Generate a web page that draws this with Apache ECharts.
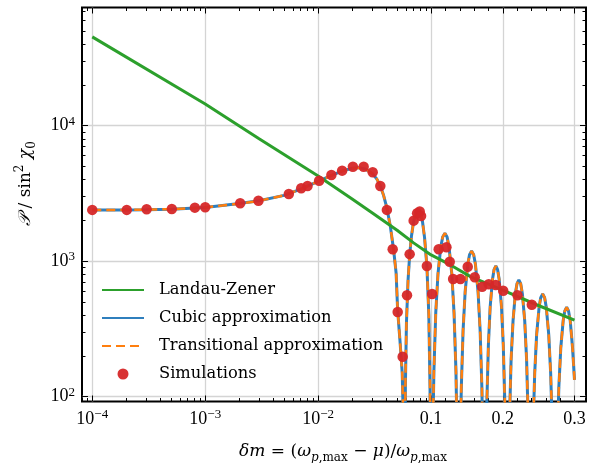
<!DOCTYPE html>
<html><head><meta charset="utf-8">
<script src="https://cdn.jsdelivr.net/npm/echarts@6/dist/echarts.min.js"></script>
<style>html,body{margin:0;padding:0;background:#fff}#c{width:592px;height:463px}</style>
</head><body><div id="c"></div>
<script>
// ---------- data ----------
const lzX = [1e-4, 1e-3, 3e-3, 1e-2, 0.02, 0.03, 0.05, 0.07, 0.1, 0.127, 0.155, 0.2, 0.248, 0.3];
const lzP = [45200, 14450, 8000, 4255, 2880, 2280, 1690, 1365, 1112, 938, 769, 612, 475, 368];

const cubicX = [
  1e-4, 2e-4, 3e-4, 5e-4, 1e-3, 2e-3, 3e-3, 5e-3, 7e-3, 1e-2, 0.013, 0.016, 0.02, 0.023, 0.026, 0.03, 0.033, 0.0355, 0.038, 0.0407, 0.0436, 0.0466, 0.049, 0.0506, 0.053, 0.0555, 0.057,
  0.058, 0.0592, 0.0605, 0.0625, 0.0646, 0.067, 0.07, 0.0735, 0.0767, 0.08, 0.0835, 0.0875, 0.0918, 0.0955, 0.0978, 0.0992,
  0.1, 0.1019, 0.1039, 0.1065, 0.1096, 0.1135, 0.1162, 0.1193, 0.1223, 0.125, 0.1289, 0.132, 0.1347, 0.1366,
  0.1385, 0.1403, 0.1421, 0.1446, 0.1475, 0.1511, 0.1536, 0.1565, 0.1594, 0.1619, 0.1655, 0.1684, 0.1709, 0.1727,
  0.1745, 0.1761, 0.1777, 0.1799, 0.1824, 0.1856, 0.1878, 0.1903, 0.1928, 0.195, 0.1982, 0.2007, 0.2029, 0.2045,
  0.2061, 0.2077, 0.2094, 0.2116, 0.2143, 0.2175, 0.2198, 0.2224, 0.225, 0.2273, 0.2306, 0.2332, 0.2354, 0.2371,
  0.2387, 0.2404, 0.2421, 0.2445, 0.2472, 0.2506, 0.2529, 0.2557, 0.2584, 0.2607, 0.2641, 0.2668, 0.2692, 0.2709,
  0.2726, 0.2742, 0.2759, 0.2782, 0.2809, 0.2842, 0.2865, 0.2891, 0.2917, 0.2941, 0.2973, 0.3
];
const cubicP = [
  2385, 2390, 2400, 2420, 2490, 2660, 2790, 3060, 3400, 3880, 4280, 4600, 4850, 4900, 4800, 4450, 4050, 3600, 3050, 2450, 1800, 1210, 820, 430, 260, 150, 60,
  3, 120, 350, 720, 1110, 1530, 1960, 2300, 2415, 2310, 2020, 1500, 920, 400, 120, 25,
  3, 39, 153, 416, 804, 1276, 1509, 1607, 1509, 1276, 804, 416, 153, 39,
  3, 29, 114, 308, 595, 944, 1116, 1189, 1116, 944, 595, 308, 114, 29,
  3, 23, 88, 239, 461, 732, 866, 922, 866, 732, 461, 239, 88, 23,
  3, 18, 69, 188, 363, 576, 682, 726, 682, 576, 363, 188, 69, 18,
  3, 14, 55, 148, 287, 455, 538, 573, 538, 455, 287, 148, 55, 14,
  3, 11, 44, 118, 229, 363, 429, 457, 429, 363, 229, 133
];
// transitional approximation is indistinguishable from the cubic one in the picture
const transX = cubicX.slice();
const transP = cubicP.slice();

const simX = [1e-4, 2.02e-4, 3.03e-4, 5.06e-4, 8.1e-4, 1.0e-3, 2.04e-3, 2.96e-3, 5.5e-3, 7.08e-3, 8.05e-3, 1.02e-2, 0.0131, 0.0163, 0.0203, 0.0253, 0.0304, 0.0355, 0.0406, 0.0457, 0.0506, 0.056, 0.0612, 0.0646, 0.0701, 0.0752, 0.0793, 0.0815, 0.0918, 0.1014, 0.1106, 0.1214, 0.126, 0.1307, 0.1409, 0.1511, 0.1609, 0.1712, 0.1804, 0.1902, 0.2006, 0.2205, 0.2405];
const simP = [2390, 2390, 2415, 2427, 2483, 2500, 2675, 2796, 3133, 3451, 3589, 3927, 4327, 4656, 4980, 4980, 4530, 3589, 2390, 1224, 422, 197, 560, 1127, 1991, 2257, 2328, 2156, 922, 573, 1224, 1266, 991, 739, 739, 911, 761, 648, 675, 667, 606, 560, 477];

const xTickVals = [1e-4, 1e-3, 1e-2, 0.1, 0.2, 0.3];
const xTickLabels = [['10', '\u22124'], ['10', '\u22123'], ['10', '\u22122'], ['0.1', ''], ['0.2', ''], ['0.3', '']];
const xMinorVals = [9e-5, 2e-4, 3e-4, 4e-4, 5e-4, 6e-4, 7e-4, 8e-4, 9e-4, 2e-3, 3e-3, 4e-3, 5e-3, 6e-3, 7e-3, 8e-3, 9e-3, 0.02, 0.03, 0.04, 0.05, 0.06, 0.07, 0.08, 0.09, 0.12, 0.14, 0.16, 0.18, 0.22, 0.24, 0.26, 0.28];
const yTickVals = [100, 1000, 10000];
const yTickLabels = [['10', '2'], ['10', '3'], ['10', '4']];
const yMinorVals = [200, 300, 400, 500, 600, 700, 800, 900, 2000, 3000, 4000, 5000, 6000, 7000, 8000, 9000, 20000, 30000, 40000, 50000, 60000, 70000];

// ---------- scale: log10 below 0.1, linear above ----------
const K = 6.348;
const fx = x => x <= 0.1 ? Math.log10(x) : -1 + (x - 0.1) * K;
const fy = p => Math.log10(p);
const XMIN = -4.091, XMAX = 0.3716, YMIN = 1.9646, YMAX = 4.872;

const FONT = 'Liberation Serif';
const TFONT = 'DejaVu Serif';
const pairs = (X, P) => X.map((x, i) => [fx(x), fy(P[i])]);
const xMajorU = xTickVals.map(fx), xMinorU = xMinorVals.map(fx);
const yMajorU = yTickVals.map(fy), yMinorU = yMinorVals.map(fy);

const richTick = {
  b: { fontFamily: FONT, fontSize: 18, color: '#000', lineHeight: 22 },
  s: { fontFamily: FONT, fontSize: 13, color: '#000', lineHeight: 13, verticalAlign: 'top' }
};
function lab(list, U) {
  return v => {
    let i = 0, best = 1e9;
    U.forEach((u, k) => { const d = Math.abs(u - v); if (d < best) { best = d; i = k; } });
    const [b, e] = list[i];
    return e ? '{b|' + b + '}{s|' + e + '}' : '{b|' + b + '}';
  };
}
const tickStyle = { color: '#000', width: 1 };
function xAxisCfg(pos, vals, len, withLabels) {
  return {
    type: 'value', position: pos, min: XMIN, max: XMAX,
    axisLine: { show: false, onZero: false },
    axisTick: { show: true, inside: true, length: len, customValues: vals, lineStyle: tickStyle },
    axisLabel: withLabels ? { show: true, customValues: vals, margin: 7, formatter: lab(xTickLabels, xMajorU), rich: richTick } : { show: false },
    splitLine: { show: withLabels, lineStyle: { color: '#d4d4d4', width: 1.3 } },
    minorTick: { show: false }, minorSplitLine: { show: false }
  };
}
function yAxisCfg(pos, vals, len, withLabels) {
  return {
    type: 'value', position: pos, min: YMIN, max: YMAX,
    axisLine: { show: false, onZero: false },
    axisTick: { show: true, inside: true, length: len, customValues: vals, lineStyle: tickStyle },
    axisLabel: withLabels ? { show: true, customValues: vals, margin: 7, formatter: lab(yTickLabels, yMajorU), rich: richTick } : { show: false },
    splitLine: { show: withLabels, lineStyle: { color: '#d4d4d4', width: 1.3 } },
    minorTick: { show: false }, minorSplitLine: { show: false }
  };
}

const nameRich = {
  i: { fontFamily: TFONT, fontSize: 17, fontStyle: 'italic', color: '#000', lineHeight: 24 },
  n: { fontFamily: TFONT, fontSize: 17, color: '#000', lineHeight: 24 },
  si: { fontFamily: TFONT, fontSize: 12, fontStyle: 'italic', color: '#000', lineHeight: 12, verticalAlign: 'bottom' },
  s: { fontFamily: TFONT, fontSize: 12, color: '#000', lineHeight: 12, verticalAlign: 'bottom' },
  sup: { fontFamily: TFONT, fontSize: 12, color: '#000', lineHeight: 12, verticalAlign: 'top' }
};

const xAxes = [
  xAxisCfg('bottom', xMajorU, 6, true),
  xAxisCfg('bottom', xMinorU, 3.5, false),
  xAxisCfg('top', xMajorU, 6, false),
  xAxisCfg('top', xMinorU, 3.5, false)
];
Object.assign(xAxes[0], {
  name: '{i|\u03b4m}{n| = (}{i|\u03c9}{si|p}{s|,max}{n| \u2212 }{i|\u03bc}{n|)/}{i|\u03c9}{si|p}{s|,max}',
  nameLocation: 'middle', nameGap: 38,
  nameTextStyle: { rich: nameRich, padding: [0, 0, 0, 18] }
});

const yAxes = [
  yAxisCfg('left', yMajorU, 6, true),
  yAxisCfg('left', yMinorU, 3.5, false),
  yAxisCfg('right', yMajorU, 6, false),
  yAxisCfg('right', yMinorU, 3.5, false)
];
Object.assign(yAxes[0], {
  name: '{i|\ud835\udcab}{n| / sin}{sup|2}{n| }{i|\u03c7}{s|0}',
  nameLocation: 'middle', nameRotate: 90, nameGap: 44,
  nameTextStyle: { rich: nameRich, padding: [0, 0, 0, 42] }
});

const hidden = { opacity: 0 };
const chart = echarts.init(document.getElementById('c'), null, { renderer: 'canvas' });
chart.setOption({
  animation: false,
  backgroundColor: '#fff',
  grid: { left: 82, right: 6, top: 7.5, bottom: 61.5, show: true, borderColor: '#000', borderWidth: 2, containLabel: false, outerBoundsMode: 'none' },
  xAxis: xAxes,
  yAxis: yAxes,
  legend: {
    orient: 'vertical', left: 96, top: 277, itemWidth: 42, itemHeight: 11, itemGap: 12,
    textStyle: { fontFamily: TFONT, fontSize: 16.3, color: '#000', padding: [0, 0, 0, 10] },
    data: [
      { name: 'Landau-Zener', itemStyle: hidden },
      { name: 'Cubic approximation', itemStyle: hidden },
      { name: 'Transitional approximation', itemStyle: hidden },
      { name: 'Simulations' }
    ]
  },
  series: [
    { name: 'Cubic approximation', type: 'line', symbol: 'none', data: pairs(cubicX, cubicP), z: 2,
      lineStyle: { color: '#2f7fbd', width: 3 }, itemStyle: { color: '#2f7fbd' } },
    { name: 'Transitional approximation', type: 'line', symbol: 'none', data: pairs(transX, transP), z: 3,
      lineStyle: { color: '#ff7f0e', width: 2.5, type: [9, 5] }, itemStyle: { color: '#ff7f0e' } },
    { name: 'Landau-Zener', type: 'line', symbol: 'none', data: pairs(lzX, lzP), z: 4,
      lineStyle: { color: '#2ca02c', width: 3 }, itemStyle: { color: '#2ca02c' } },
    { name: 'Simulations', type: 'scatter', symbol: 'circle', symbolSize: 10.5, data: pairs(simX, simP), z: 5,
      itemStyle: { color: '#d62728', opacity: 0.95 } }
  ]
});
</script></body></html>
